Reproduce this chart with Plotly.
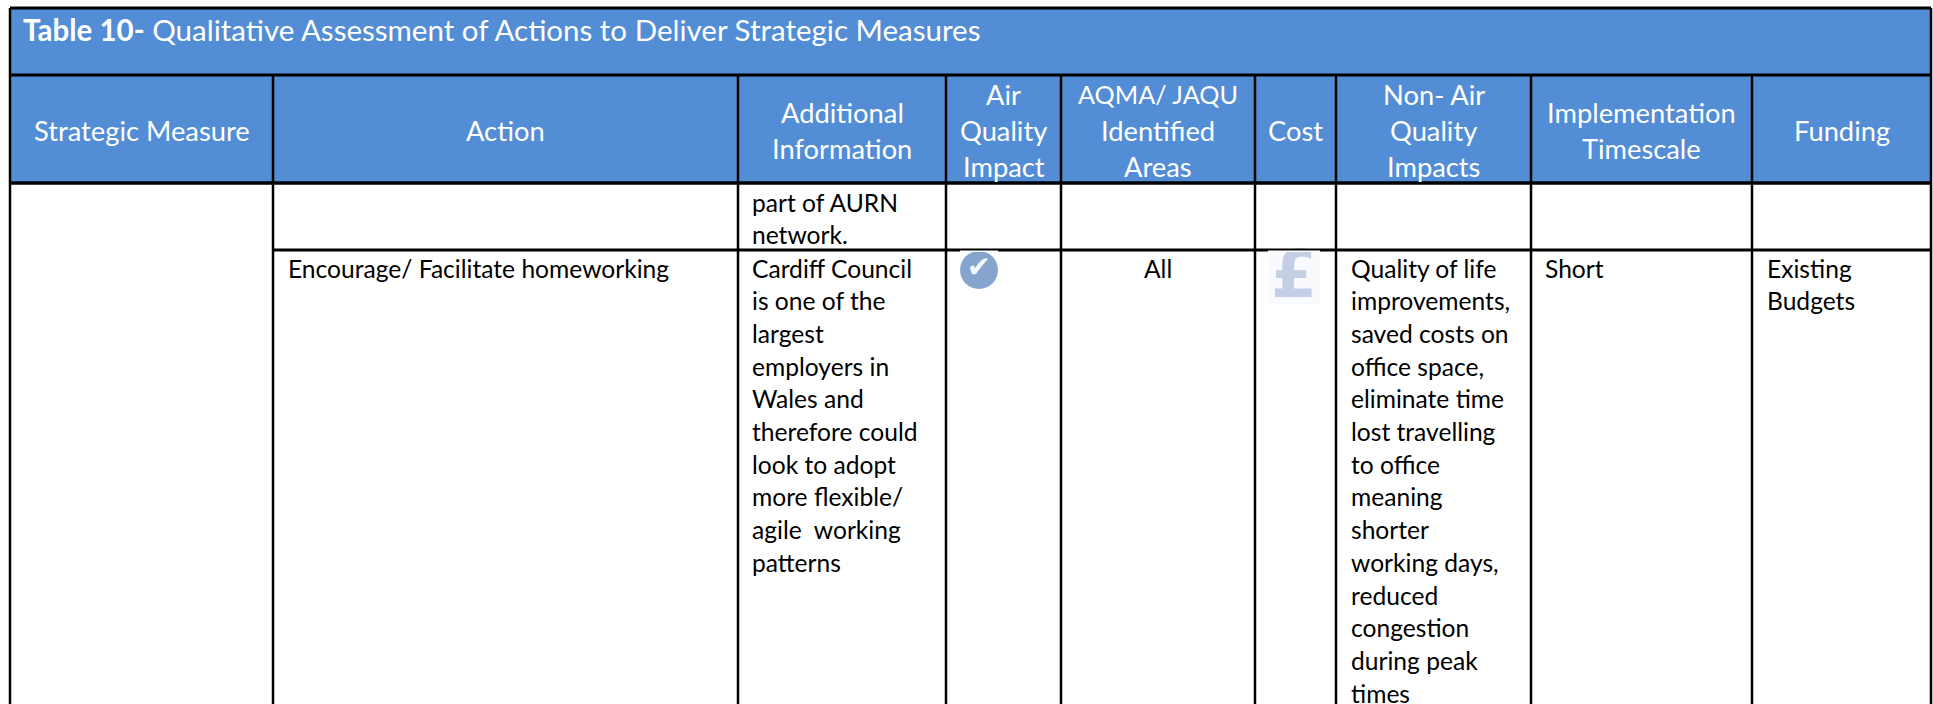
import plotly.graph_objects as go

FONT = "Lato"
HEADER_BLUE = "#538DD5"
title_bold = "Table 10-"
title_rest = " Qualitative Assessment of Actions to Deliver Strategic Measures"

headers = [
    ["Strategic Measure"],
    ["Action"],
    ["Additional", "Information"],
    ["Air", "Quality", "Impact"],
    ["AQMA/ JAQU", "Identified", "Areas"],
    ["Cost"],
    ["Non- Air", "Quality", "Impacts"],
    ["Implementation", "Timescale"],
    ["Funding"],
]
first_row_info = ["part of AURN", "network."]
action_text = ["Encourage/ Facilitate homeworking"]
info_text = ["Cardiff Council", "is one of the", "largest", "employers in", "Wales and",
             "therefore could", "look to adopt", "more flexible/", "agile  working", "patterns"]
areas_text = ["All"]
impacts_text = ["Quality of life", "improvements,", "saved costs on", "office space,",
                "eliminate time", "lost travelling", "to office", "meaning", "shorter",
                "working days,", "reduced", "congestion", "during peak", "times"]
timescale_text = ["Short"]
funding_text = ["Existing", "Budgets"]

# layout geometry (page pixels)
X_EDGES = [10, 273, 738, 946, 1061, 1255, 1336, 1531, 1752, 1931]
Y_TOP, Y_TITLE, Y_HEAD, Y_ROW1, Y_BOTTOM = 8, 75, 183, 250, 704
LINE_H = 32.7
HEAD_H = 36

fig = go.Figure()
shapes, ann = [], []


def rect(x0, y0, x1, y1, fill, layer="below"):
    shapes.append(dict(type="rect", x0=x0, x1=x1, y0=y0, y1=y1, fillcolor=fill,
                       line=dict(width=0), layer=layer))


def line(x0, y0, x1, y1, w=2.5):
    shapes.append(dict(type="line", x0=x0, x1=x1, y0=y0, y1=y1,
                       line=dict(color="#000000", width=w)))


def label(x, y, text, size, color="#000000", anchor="left"):
    ann.append(dict(x=x, y=y, text=text, showarrow=False, xanchor=anchor, yanchor="middle",
                    font=dict(family=FONT, size=size, color=color), xref="x", yref="y",
                    borderpad=0, borderwidth=0))


rect(X_EDGES[0], Y_TOP, X_EDGES[-1], Y_HEAD, HEADER_BLUE)
rect(1268, 252, 1320, 304, "#F8FAFD")

# rules
line(X_EDGES[0], Y_TOP, X_EDGES[-1], Y_TOP, 3)
line(X_EDGES[0], Y_TITLE, X_EDGES[-1], Y_TITLE, 3)
line(X_EDGES[0], Y_HEAD, X_EDGES[-1], Y_HEAD, 3.5)
line(X_EDGES[1], Y_ROW1, X_EDGES[-1], Y_ROW1, 3)
line(X_EDGES[0], Y_TOP, X_EDGES[0], Y_BOTTOM)
line(X_EDGES[-1], Y_TOP, X_EDGES[-1], Y_BOTTOM)
for xe in X_EDGES[1:-1]:
    line(xe, Y_TITLE, xe, Y_BOTTOM)

# icon backgrounds nibble the rule under them
rect(960, 250.5, 998, 252, "#FFFFFF", "above")
rect(1268, 250.5, 1320, 252, "#FFFFFF", "above")

# title
label(23, 29, f"<b>{title_bold}</b>{title_rest}", 29.5, "#FFFFFF")

# header cells
for i, lines in enumerate(headers):
    cx = (X_EDGES[i] + X_EDGES[i + 1]) / 2
    start = 130 - (len(lines) - 1) * HEAD_H / 2
    for j, t in enumerate(lines):
        size = 25.2 if t == "AQMA/ JAQU" else 27.3
        label(cx, start + j * HEAD_H, t, size, "#FFFFFF", "center")


def body(x, y0, lines, anchor="left"):
    for j, t in enumerate(lines):
        label(x, y0 + j * LINE_H, t, 24.6, anchor=anchor)


body(752, 202, first_row_info)
body(288, 268, action_text)
body(752, 268, info_text)
body(1158, 268, areas_text, "center")
body(1351, 268, impacts_text)
body(1545, 268, timescale_text)
body(1767, 268, funding_text)

# icons
fig.add_trace(go.Scatter(x=[979], y=[270], mode="markers+text", text=["✔"],
                         textposition="middle center",
                         textfont=dict(family="DejaVu Sans", size=29, color="#F4F7FB"),
                         marker=dict(size=38, color="#86A5CE", line=dict(width=0)),
                         hoverinfo="skip", showlegend=False))
fig.add_trace(go.Scatter(x=[1294], y=[280], mode="text", text=["<b>£</b>"],
                         textposition="middle center",
                         textfont=dict(family="DejaVu Sans", size=66, color="#C4CEE4"),
                         hoverinfo="skip", showlegend=False))

fig.update_layout(
    width=1933, height=704, margin=dict(l=0, r=0, t=0, b=0),
    paper_bgcolor="#FFFFFF", plot_bgcolor="#FFFFFF", showlegend=False,
    shapes=shapes, annotations=ann,
    xaxis=dict(range=[0, 1933], visible=False, fixedrange=True),
    yaxis=dict(range=[704, 0], visible=False, fixedrange=True),
)
fig.write_html("out.html", config={"displayModeBar": False},
               post_script="document.body.style.margin='0';document.body.style.overflow='hidden';")
